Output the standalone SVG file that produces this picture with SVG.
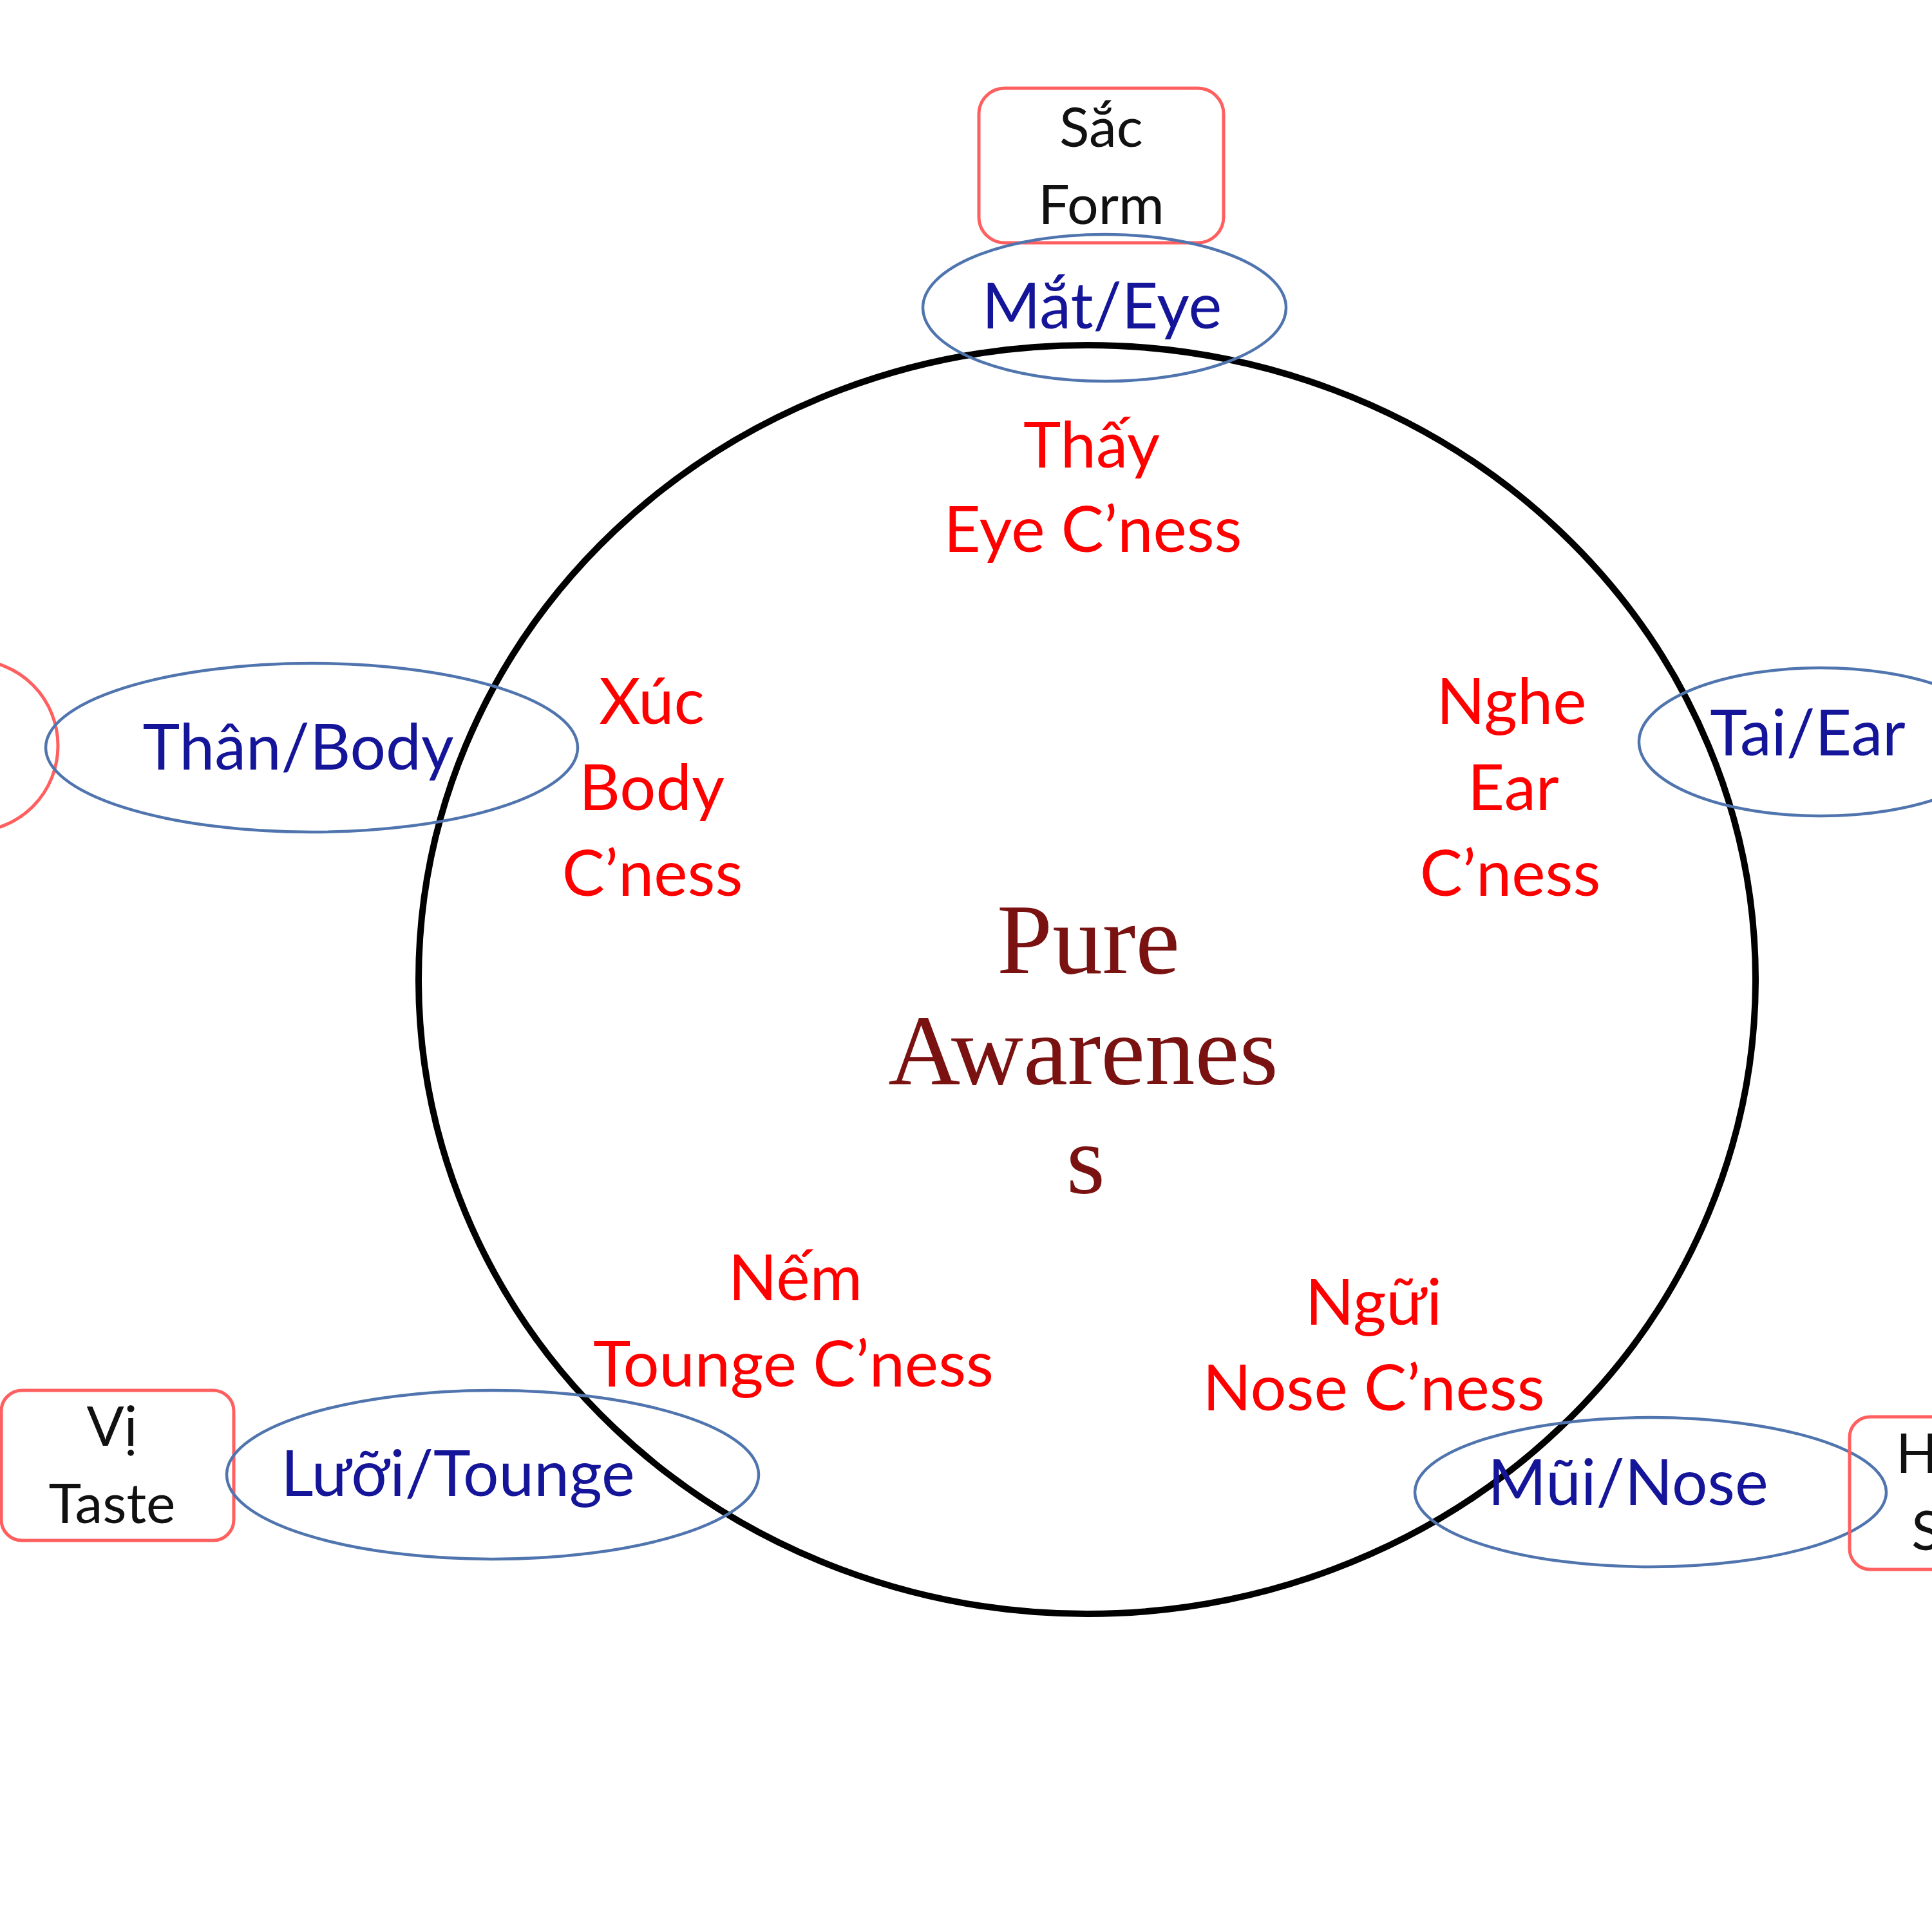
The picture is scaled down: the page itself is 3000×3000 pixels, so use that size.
<svg xmlns="http://www.w3.org/2000/svg" width="3000" height="3000" viewBox="0 0 3000 3000">
<style>
.bg{fill:#ffffff}
.ring{fill:none;stroke:#000000;stroke-width:10}
.organ{fill:none;stroke:#5075AE;stroke-width:4.5}
.obj{fill:none;stroke:#FF5F5F;stroke-width:5}
.t{font-family:Lato,"Open Sans","Liberation Sans",sans-serif;text-anchor:middle}
.red{fill:#FF0000;font-size:99px}
.blue{fill:#15159A;font-size:98px}
.blk{fill:#111111;font-size:86px}
.pure{font-family:"Liberation Serif","DejaVu Serif",serif;fill:#7A1212;font-size:155px;text-anchor:middle}
</style>
<rect class="bg" x="0" y="0" width="3000" height="3000"/>

<g id="awareness">
  <ellipse class="ring" cx="1688" cy="1521" rx="1038" ry="985"/>
  <text class="pure" x="1690" y="1511">Pure</text>
  <text class="pure" x="1682" y="1683">Awarenes</text>
  <text class="pure" x="1686" y="1852">s</text>
</g>

<g id="eye-consciousness">
  <text class="t red" x="1695" y="726">Thấy</text>
  <text class="t red" x="1697" y="857">Eye C’ness</text>
</g>
<g id="body-consciousness">
  <text class="t red" x="1012" y="1124">Xúc</text>
  <text class="t red" x="1012" y="1258">Body</text>
  <text class="t red" x="1013" y="1391">C’ness</text>
</g>
<g id="ear-consciousness">
  <text class="t red" x="2347" y="1124">Nghe</text>
  <text class="t red" x="2350" y="1258">Ear</text>
  <text class="t red" x="2345" y="1391">C’ness</text>
</g>
<g id="tongue-consciousness">
  <text class="t red" x="1235" y="2019">Nếm</text>
  <text class="t red" x="1232" y="2153">Tounge C’ness</text>
</g>
<g id="nose-consciousness">
  <text class="t red" x="2133" y="2057">Ngữi</text>
  <text class="t red" x="2133" y="2190">Nose C’ness</text>
</g>

<g id="form">
  <rect class="obj" x="1520" y="137" width="380" height="240" rx="40" ry="40"/>
  <text class="t blk" x="1710" y="228">Sắc</text>
  <text class="t blk" x="1710" y="348">Form</text>
</g>
<g id="eye">
  <ellipse class="organ" cx="1715" cy="478" rx="282" ry="114"/>
  <text class="t blue" x="1711" y="510">Mắt/Eye</text>
</g>

<g id="touch">
  <ellipse class="obj" cx="-42" cy="1158" rx="132" ry="133"/>
</g>
<g id="body">
  <ellipse class="organ" cx="484" cy="1161" rx="413" ry="131"/>
  <text class="t blue" x="463" y="1195">Thân/Body</text>
</g>

<g id="ear">
  <ellipse class="organ" cx="2827" cy="1152" rx="282" ry="115"/>
  <text class="t blue" x="2807" y="1173">Tai/Ear</text>
</g>

<g id="taste">
  <rect class="obj" x="2" y="2159" width="361" height="233" rx="32" ry="32"/>
  <text class="t blk" x="174" y="2245">Vị</text>
  <text class="t blk" x="174" y="2365">Taste</text>
</g>
<g id="tongue">
  <ellipse class="organ" cx="765" cy="2290" rx="413" ry="131"/>
  <text class="t blue" x="711" y="2323">Lưỡi/Tounge</text>
</g>

<g id="nose">
  <ellipse class="organ" cx="2563" cy="2317" rx="366" ry="116"/>
  <text class="t blue" x="2528" y="2337">Mũi/Nose</text>
</g>
<g id="smell">
  <rect class="obj" x="2872" y="2200" width="260" height="237" rx="32" ry="32"/>
  <text class="t blk" x="2944" y="2287" style="text-anchor:start">H</text>
  <text class="t blk" x="2968" y="2407" style="text-anchor:start">S</text>
</g>

<g id="connectors"></g>
</svg>
